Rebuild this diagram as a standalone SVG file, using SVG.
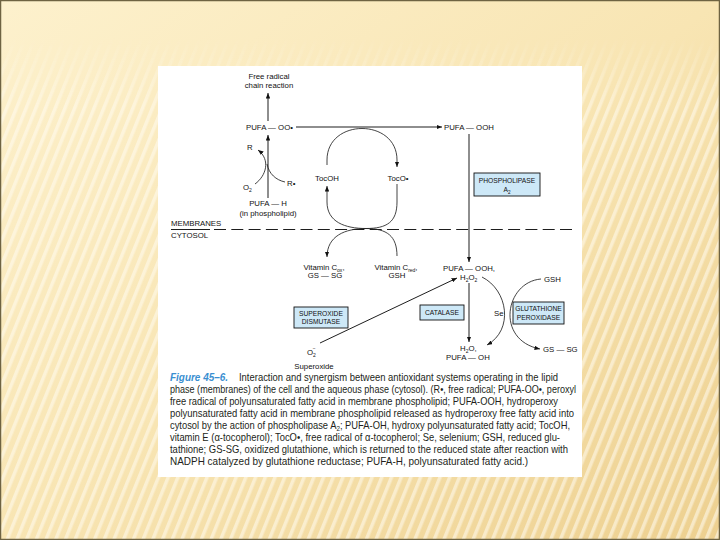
<svg xmlns="http://www.w3.org/2000/svg" width="720" height="540" viewBox="0 0 720 540">
<defs>
<linearGradient id="bg" x1="0" y1="0" x2="1" y2="1">
<stop offset="0" stop-color="#fdf1cd"/>
<stop offset="0.5" stop-color="#f8e5b3"/>
<stop offset="1" stop-color="#edd090"/>
</linearGradient>
<linearGradient id="fade" x1="0" y1="0" x2="0" y2="1">
<stop offset="0" stop-color="#fff" stop-opacity="0"/>
<stop offset="0.07" stop-color="#fff" stop-opacity="0"/>
<stop offset="0.2" stop-color="#fff" stop-opacity="1"/>
<stop offset="1" stop-color="#fff" stop-opacity="1"/>
</linearGradient>
<mask id="m"><rect width="720" height="540" fill="url(#fade)"/></mask>
<pattern id="stripes" width="9" height="9" patternUnits="userSpaceOnUse" patternTransform="rotate(22)">
<rect x="0" y="0" width="3.5" height="9" fill="#fffaf0" opacity="0.55"/>
</pattern>
<marker id="ah" viewBox="0 0 10 8" refX="10" refY="4" markerWidth="5.5" markerHeight="4.4" orient="auto" markerUnits="userSpaceOnUse">
<path d="M0,0 L10,4 L0,8 z" fill="#111"/>
</marker>
<style>
.lb{font-family:"Liberation Sans",Arial,sans-serif;font-size:7.8px;fill:#111}
.bx{font-family:"Liberation Sans",Arial,sans-serif;font-size:6.7px;fill:#111}
.box{fill:#cde8f7;stroke:#111;stroke-width:0.9}
.ln{fill:none;stroke:#111;stroke-width:0.95}
.cv{fill:none;stroke:#222;stroke-width:0.85}
.cap{font-family:"Liberation Sans",Arial,sans-serif;font-size:10.4px;fill:#231f20}
.fig{font-family:"Liberation Sans",Arial,sans-serif;font-size:11px;font-style:italic;font-weight:bold;fill:#3a8fd1}
</style>
</defs>

<!-- slide background -->
<rect width="720" height="540" fill="url(#bg)"/>
<rect width="720" height="540" fill="url(#stripes)" mask="url(#m)"/>
<rect x="0.5" y="0.5" width="719" height="539" fill="none" stroke="#6e6342" stroke-width="1.5"/>

<!-- figure panel -->
<rect x="158" y="66" width="424" height="411" fill="#ffffff"/>

<!-- membrane / cytosol boundary -->
<g id="boundary">
<text class="lb" x="171" y="225.5">MEMBRANES</text>
<text class="lb" x="171" y="237.5">CYTOSOL</text>
<line class="ln" x1="171" y1="229.5" x2="210" y2="229.5"/>
<line class="ln" x1="214" y1="229.5" x2="573" y2="229.5" stroke-dasharray="12 5.3"/>
</g>

<g id="free-radical"><text class="lb" x="269" y="79" text-anchor="middle">Free radical</text><text class="lb" x="269" y="88" text-anchor="middle">chain reaction</text></g>
<g id="pufa-oo"><text class="lb" x="246" y="130">PUFA — OO•</text></g>
<g id="pufa-ooh-mem"><text class="lb" x="444" y="130">PUFA — OOH</text></g>
<g id="r"><text class="lb" x="247" y="150">R</text></g>
<g id="r-rad"><text class="lb" x="287" y="186">R•</text></g>
<g id="o2"><text class="lb" x="243" y="190">O<tspan font-size="5" baseline-shift="-2">2</tspan></text></g>
<g id="pufa-h"><text class="lb" x="268" y="206" text-anchor="middle">PUFA — H</text><text class="lb" x="268" y="216" text-anchor="middle">(in phospholipid)</text></g>
<g id="tocoh"><text class="lb" x="327" y="180.5" text-anchor="middle">TocOH</text></g>
<g id="toco"><text class="lb" x="398" y="180.5" text-anchor="middle">TocO•</text></g>
<g id="phospholipase"><rect class="box" x="474" y="173" width="66" height="23"/><text class="bx" x="507" y="183" text-anchor="middle">PHOSPHOLIPASE</text><text class="bx" x="507" y="192" text-anchor="middle">A<tspan font-size="4.6" baseline-shift="-1.8">2</tspan></text></g>
<g id="vitc-ox"><text class="lb" x="324" y="270" text-anchor="middle">Vitamin C<tspan font-size="5" baseline-shift="-1.8">ox</tspan>,</text><text class="lb" x="325" y="278" text-anchor="middle">GS — SG</text></g>
<g id="vitc-red"><text class="lb" x="396" y="270" text-anchor="middle">Vitamin C<tspan font-size="5" baseline-shift="-1.8">red</tspan>,</text><text class="lb" x="397" y="278" text-anchor="middle">GSH</text></g>
<g id="pufa-ooh-cyt"><text class="lb" x="443" y="271">PUFA — OOH,</text><text class="lb" x="460" y="279.5">H<tspan font-size="5" baseline-shift="-1.8">2</tspan>O<tspan font-size="5" baseline-shift="-1.8">2</tspan></text></g>
<g id="gsh"><text class="lb" x="544" y="281.5">GSH</text></g>
<g id="sod"><rect class="box" x="294" y="307" width="54" height="21"/><text class="bx" x="321" y="315.5" text-anchor="middle">SUPEROXIDE</text><text class="bx" x="321" y="324" text-anchor="middle">DISMUTASE</text></g>
<g id="catalase"><rect class="box" x="420" y="305" width="44" height="15"/><text class="bx" x="442" y="315" text-anchor="middle">CATALASE</text></g>
<g id="se"><text class="lb" x="494" y="316">Se</text></g>
<g id="gpx"><rect class="box" x="513" y="302" width="51" height="22"/><text class="bx" x="538.5" y="311" text-anchor="middle">GLUTATHIONE</text><text class="bx" x="538.5" y="320" text-anchor="middle">PEROXIDASE</text></g>
<g id="superoxide"><text class="lb" x="307" y="355">O<tspan font-size="5" baseline-shift="-2">2</tspan><tspan font-size="5" dx="-3" baseline-shift="5">−</tspan></text><text class="lb" x="314" y="369" text-anchor="middle">Superoxide</text></g>
<g id="h2o"><text class="lb" x="460" y="351">H<tspan font-size="5" baseline-shift="-1.8">2</tspan>O,</text><text class="lb" x="446" y="360">PUFA — OH</text></g>
<g id="gssg"><text class="lb" x="543" y="352">GS — SG</text></g>

<!-- connectors -->
<g id="connectors">
<path class="ln" d="M268,121 L268,93" marker-end="url(#ah)"/>
<path class="ln" d="M268,198 L268,135" marker-end="url(#ah)"/>
<path class="cv" d="M255,184 C266,176 271,160 258,150" marker-end="url(#ah)"/>
<path class="cv" d="M267,164 C269,174 276,180 285,182"/>
<path class="ln" d="M296,127 L442,127" marker-end="url(#ah)"/>
<path class="ln" d="M469,134 L469,262" marker-end="url(#ah)"/>
<path class="cv" d="M327,165 L327,160 C327,118 397,118 397,160 L397,167" marker-end="url(#ah)"/>
<path class="cv" d="M366,228.5 C345,228.5 327,222 327,202 L327,186" marker-end="url(#ah)"/>
<path class="cv" d="M397,184 L397,202 C397,222 387,228.5 366,228.5"/>
<path class="cv" d="M366,228.5 C345,228.5 327,236 327,257" marker-end="url(#ah)"/>
<path class="cv" d="M397,256 C397,236 387,228.5 366,228.5"/>
<path class="ln" d="M320,343 L457,278" marker-end="url(#ah)"/>
<path class="ln" d="M469,283 L469,342" marker-end="url(#ah)"/>
<path class="cv" d="M482,277 C508,290 514,330 487,345" marker-end="url(#ah)"/>
<path class="cv" d="M541,279 C505,282 495,340 540,349" marker-end="url(#ah)"/>
</g>

<!-- caption -->
<g id="caption">
<text class="fig" x="170" y="381" textLength="58" lengthAdjust="spacingAndGlyphs">Figure 45–6.</text>
<text class="cap" x="239" y="381" textLength="319" lengthAdjust="spacingAndGlyphs">Interaction and synergism between antioxidant systems operating in the lipid</text>
<text class="cap" x="170" y="393" textLength="406" lengthAdjust="spacingAndGlyphs">phase (membranes) of the cell and the aqueous phase (cytosol). (R•, free radical; PUFA-OO•, peroxyl</text>
<text class="cap" x="170" y="405" textLength="388" lengthAdjust="spacingAndGlyphs">free radical of polyunsaturated fatty acid in membrane phospholipid; PUFA-OOH, hydroperoxy</text>
<text class="cap" x="170" y="417" textLength="404" lengthAdjust="spacingAndGlyphs">polyunsaturated fatty acid in membrane phospholipid released as hydroperoxy free fatty acid into</text>
<text class="cap" x="170" y="429" textLength="400" lengthAdjust="spacingAndGlyphs">cytosol by the action of phospholipase A<tspan font-size="7" baseline-shift="-2">2</tspan>; PUFA-OH, hydroxy polyunsaturated fatty acid; TocOH,</text>
<text class="cap" x="170" y="441" textLength="390" lengthAdjust="spacingAndGlyphs">vitamin E (α-tocopherol); TocO•, free radical of α-tocopherol; Se, selenium; GSH, reduced glu-</text>
<text class="cap" x="170" y="453" textLength="398" lengthAdjust="spacingAndGlyphs">tathione; GS-SG, oxidized glutathione, which is returned to the reduced state after reaction with</text>
<text class="cap" x="170" y="465" textLength="358" lengthAdjust="spacingAndGlyphs">NADPH catalyzed by glutathione reductase; PUFA-H, polyunsaturated fatty acid.)</text>
</g>
</svg>
